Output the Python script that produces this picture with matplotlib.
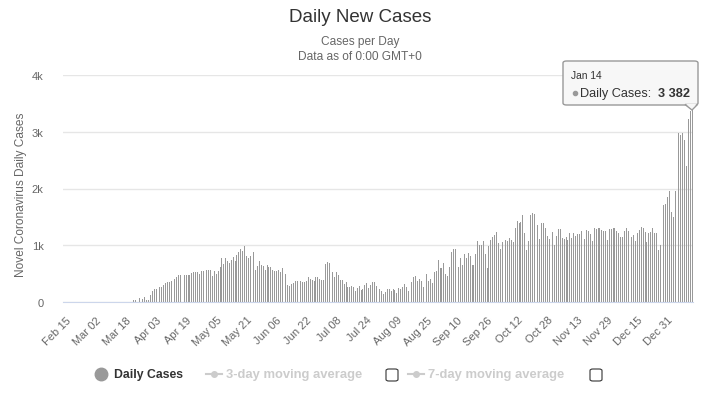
import datetime
import matplotlib.pyplot as plt
import matplotlib.transforms as mtransforms
from matplotlib.patches import FancyBboxPatch, Polygon
from matplotlib.lines import Line2D

plt.rcParams['font.family'] = ['Liberation Sans', 'DejaVu Sans']

# daily new cases, Feb 15 -> Jan 14
zeros_start = [0] * 33
early = [18, 0, 0, 0, 36, 36, 0, 66, 0, 54, 84, 30, 42, 126, 198, 234, 234, 288, 270, 270,
         294, 330, 360, 360, 372, 384, 408, 438, 468, 468, 0, 468, 468, 480, 468, 510, 522]
spring = [528, 528, 492, 540, 540, 540, 558, 558, 558, 450, 540, 492, 540, 612, 774, 666, 774, 720, 690, 738,
          792, 720, 828, 876, 930, 900, 990, 810, 774, 810, 774, 882, 558, 630, 720, 648, 630, 558, 648, 612,
          612, 558, 540]
june_july = [540, 558, 522, 594, 468, 492, 300, 288, 324, 342, 378, 378, 378, 378, 360, 360, 378, 432, 414, 396,
             378, 432, 432, 414, 396, 396, 666, 702, 690, 522, 522, 432, 522, 468, 396, 396, 324, 360, 270, 270,
             288, 270]
july_aug = [198, 252, 288, 216, 234, 306, 342, 252, 300, 360, 360, 288, 270, 234, 200, 144, 180, 234, 234, 198,
            234, 216, 162, 252, 234, 270, 324, 270, 198, 216, 360, 432, 450, 378, 414, 378, 270, 324, 486, 378,
            414, 342]
aug_oct = [536, 553, 732, 607, 607, 696, 500, 464, 625, 875, 928, 928, 1000, 625, 768, 660, 839, 768, 857, 803,
           660, 660, 839, 1071, 1000, 1000, 1071, 839, 607, 982, 1089, 1142, 1178, 1232, 1035, 928, 1053, 1035, 1089, 1071,
           1125, 1089, 1053, 1303, 1428]
oct_nov = [1392, 1410, 1535, 1214, 910, 1071, 1535, 1571, 1553, 1482, 1357, 1107, 1392, 1392, 1303, 1160, 1107, 1267, 1232, 1000,
           1160, 1285, 1285, 1125, 1107, 1142, 1089, 1214, 1125, 1214, 1160, 1196, 1196, 1250, 1285, 1107, 1267, 1250, 1196, 1071,
           1303, 1285, 1303]
nov_jan = [1296, 1261, 1243, 1243, 1101, 1279, 1279, 1296, 1296, 1250, 1208, 1137, 1137, 1243, 1296, 1243, 1190, 1137, 1172, 1083,
           1208, 1261, 1314, 1296, 1225, 1066, 1208, 1225, 1296, 1208, 1208, 924, 1012, 1492, 1705, 1723, 1847, 1954, 1581, 1492,
           1954, 2060, 2984, 2948, 2984, 2859, 2398, 3232, 3357, 3382]

cases = zeros_start + early + spring + june_july + july_aug + aug_oct + oct_nov + nov_jan
start = datetime.date(2020, 2, 15)
dates = [start + datetime.timedelta(days=i) for i in range(len(cases))]
tick_idx = list(range(0, len(cases), 16))
tick_labels = [dates[i].strftime('%b %d') for i in tick_idx]
y_ticks = [0, 1000, 2000, 3000, 4000]
y_labels = ['0', '1k', '2k', '3k', '4k']

W, H = 720, 402
fig = plt.figure(figsize=(W / 100, H / 100), dpi=100)


def fx(x):
    return x / W


def fy(y):
    return 1 - y / H


ax = fig.add_axes([fx(63), fy(303), fx(693) - fx(63), fy(76) - fy(303)])
ax.bar(range(len(cases)), cases, width=0.5, color='#999999', linewidth=0, antialiased=False)
ax.set_xlim(-0.5, len(cases) - 0.5)
ax.set_ylim(0, 4000)

ax.set_yticks(y_ticks, y_labels)
ax.grid(axis='y', color='#e6e6e6', linewidth=1)
ax.set_axisbelow(True)
for s in ['top', 'right', 'left']:
    ax.spines[s].set_visible(False)
ax.spines['bottom'].set_color('#ccd6eb')
ax.tick_params(axis='y', length=0, pad=14, labelsize=8, labelcolor='#666666')

ax.set_xticks(tick_idx, tick_labels, rotation=45, ha='right', rotation_mode='anchor')
ax.tick_params(axis='x', length=0, pad=9, labelsize=8, labelcolor='#666666')
offset = mtransforms.ScaledTranslation(2 / 100, 0, fig.dpi_scale_trans)
for lab in ax.get_xticklabels():
    lab.set_transform(lab.get_transform() + offset)

# titles
fig.text(fx(360), fy(18), 'Daily New Cases', ha='center', va='center', fontsize=13.5, color='#333333')
fig.text(fx(360), fy(42), 'Cases per Day', ha='center', va='center', fontsize=8.6, color='#666666')
fig.text(fx(360), fy(57), 'Data as of 0:00 GMT+0', ha='center', va='center', fontsize=8.6, color='#666666')
fig.text(fx(21), fy(195), 'Novel Coronavirus Daily Cases', rotation=90, ha='center', va='center',
         fontsize=8.6, color='#666666')

# legend
ly = fy(375)
fig.add_artist(Line2D([fx(101)], [ly], color='#999999', marker='o', markersize=9, linewidth=0,
                      transform=fig.transFigure))
fig.text(fx(114), ly, 'Daily Cases', ha='left', va='center', fontsize=8.8, fontweight='bold', color='#333333')
for x0, label, box_x in [(206, '3-day moving average', 392), (408, '7-day moving average', 596)]:
    fig.add_artist(Line2D([fx(x0), fx(x0 + 16)], [ly, ly], color='#cccccc', linewidth=1.5,
                          transform=fig.transFigure))
    fig.add_artist(Line2D([fx(x0 + 8)], [ly], color='#cccccc', marker='o', markersize=4,
                          transform=fig.transFigure))
    fig.text(fx(x0 + 20), ly, label, ha='left', va='center', fontsize=9.4, fontweight='bold', color='#cccccc')
    fig.patches.append(FancyBboxPatch((fx(box_x - 6), fy(382)), fx(12), fy(370) - fy(382),
                                      boxstyle='round,pad=0,rounding_size=0.004', transform=fig.transFigure,
                                      facecolor='white', edgecolor='#333333', linewidth=0.8, figure=fig))

# tooltip for the last point
fig.patches.append(FancyBboxPatch((fx(563), fy(106)), fx(698) - fx(563), fy(62) - fy(106),
                                  boxstyle='round,pad=0,rounding_size=0.005', transform=fig.transFigure,
                                  facecolor='#f7f7f7', edgecolor='#999999', linewidth=1, figure=fig, zorder=5))
fig.patches.append(Polygon([(fx(685), fy(105.5)), (fx(697.5), fy(105.5)), (fx(692), fy(111))],
                           closed=True, transform=fig.transFigure, facecolor='#f7f7f7',
                           edgecolor='#999999', linewidth=1, figure=fig, zorder=5))
fig.patches.append(Polygon([(fx(686), fy(105)), (fx(696.5), fy(105)), (fx(692), fy(109.5))],
                           closed=True, transform=fig.transFigure, facecolor='#f7f7f7',
                           edgecolor='none', figure=fig, zorder=5))
fig.text(fx(571), fy(76), dates[-1].strftime('%b %d').replace(' 0', ' '), ha='left', va='center',
         fontsize=7.4, color='#333333', zorder=6)
fig.add_artist(Line2D([fx(575)], [fy(94)], color='#999999', marker='o', markersize=3,
                      transform=fig.transFigure, zorder=6))
fig.text(fx(580), fy(94), 'Daily Cases:', ha='left', va='center', fontsize=9.2, color='#333333', zorder=6)
fig.text(fx(690), fy(94), f'{cases[-1]:,}'.replace(',', ' '), ha='right', va='center', fontsize=9.2,
         fontweight='bold', color='#333333', zorder=6)

fig.savefig('out.png', dpi=100, facecolor='white')
